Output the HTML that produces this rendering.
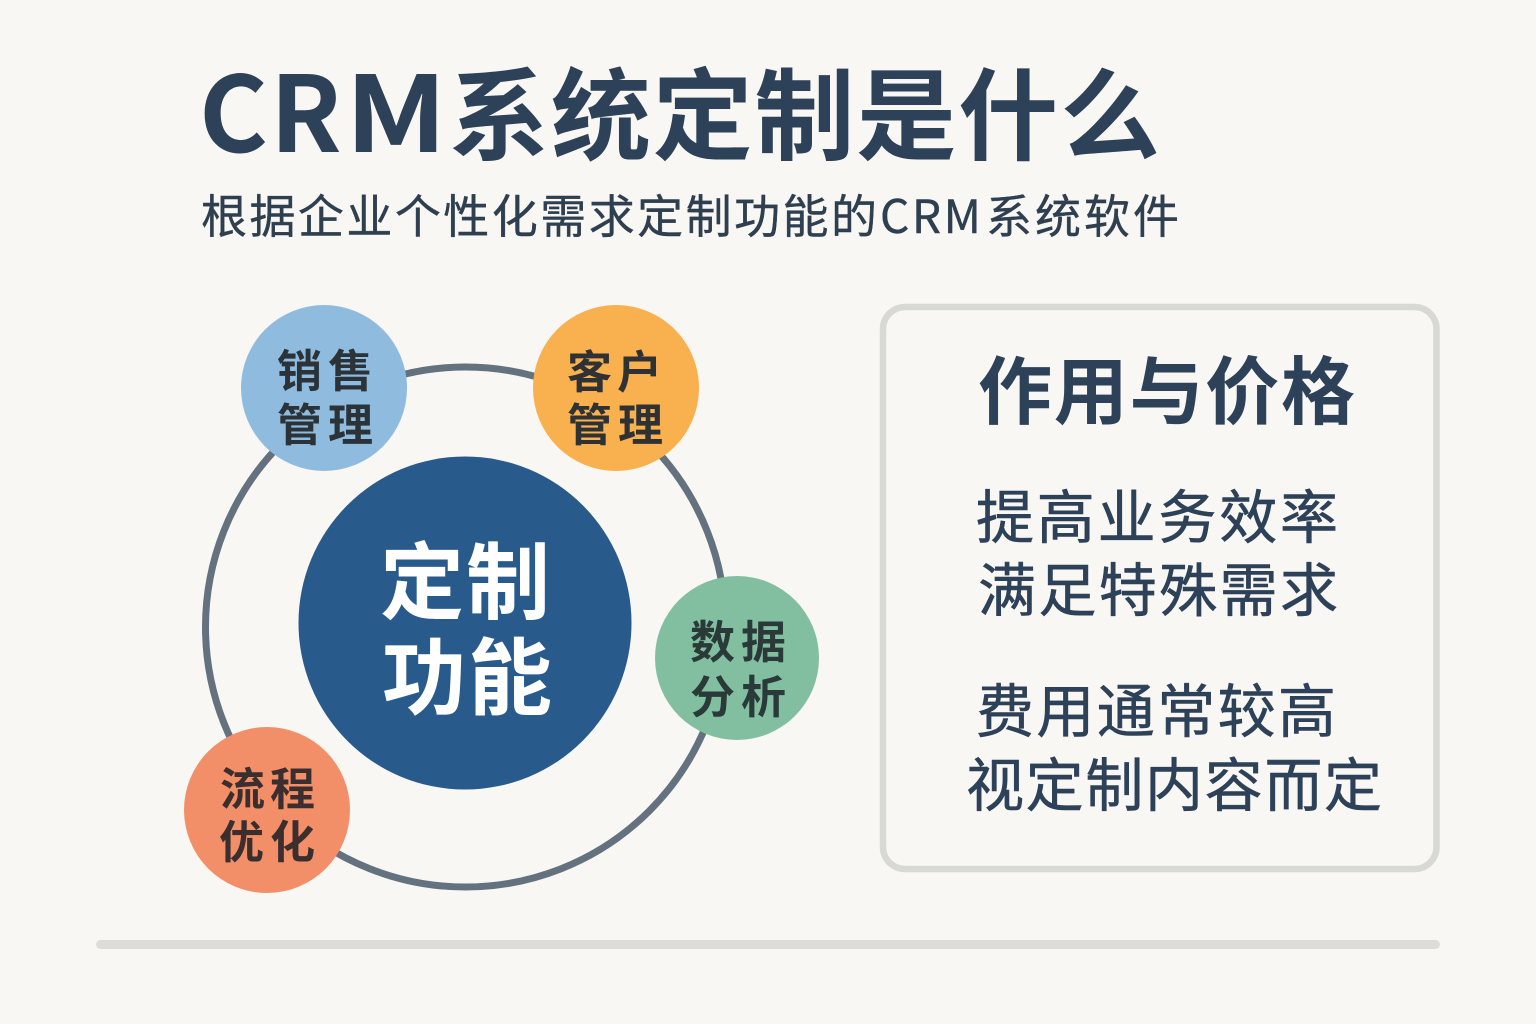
<!DOCTYPE html>
<html lang="zh">
<head>
<meta charset="utf-8">
<style>
html,body{margin:0;padding:0;background:#f8f7f3;}
svg{display:block;}
text{font-family:"Liberation Sans","Noto Sans CJK SC",sans-serif;}
.n{font-family:"Noto Sans CJK SC","Liberation Sans",sans-serif;}
</style>
</head>
<body>
<svg width="1536" height="1024" viewBox="0 0 1536 1024" xmlns="http://www.w3.org/2000/svg">
<rect width="1536" height="1024" fill="#f8f7f3"/>

<text class="n" x="199" y="152" font-size="105" font-weight="700" fill="#2d4159">C</text>
<text class="n" x="270" y="152" font-size="105" font-weight="700" fill="#2d4159">R</text>
<text class="n" x="345" y="152" font-size="105" font-weight="700" fill="#2d4159" textLength="102" lengthAdjust="spacingAndGlyphs">M</text>
<text class="n" x="449" y="152" font-size="100" font-weight="700" fill="#2d4159" textLength="711" lengthAdjust="spacing">系统定制是什么</text>

<text class="n" x="201" y="233" font-size="46" fill="#2e3f50" textLength="676" lengthAdjust="spacing" stroke="#2e3f50" stroke-width="0.4">根据企业个性化需求定制功能的</text>
<text class="n" x="880" y="233" font-size="46" fill="#2e3f50" textLength="101" lengthAdjust="spacing" stroke="#2e3f50" stroke-width="0.4">CRM</text>
<text class="n" x="986" y="233" font-size="46" fill="#2e3f50" textLength="193" lengthAdjust="spacing" stroke="#2e3f50" stroke-width="0.4">系统软件</text>

<circle cx="465.500" cy="627" r="260" fill="none" stroke="#64727f" stroke-width="7"/>
<circle cx="465" cy="623" r="166.500" fill="#285a8c"/>
<text class="n" x="380" y="612.500" font-size="84" font-weight="700" fill="#fff" textLength="170" lengthAdjust="spacing">定制</text>
<text class="n" x="382" y="708" font-size="84" font-weight="700" fill="#fff" textLength="170" lengthAdjust="spacing">功能</text>

<circle cx="324" cy="388" r="83" fill="#8fbbdf"/>
<text class="n" x="277" y="387" font-size="45" font-weight="700" fill="#2b3339" textLength="96" lengthAdjust="spacing">销售</text>
<text class="n" x="277" y="441" font-size="45" font-weight="700" fill="#2b3339" textLength="96" lengthAdjust="spacing">管理</text>

<circle cx="616" cy="388" r="83" fill="#f9b04f"/>
<text class="n" x="567" y="388" font-size="45" font-weight="700" fill="#2f3234" textLength="95" lengthAdjust="spacing">客户</text>
<text class="n" x="567" y="441" font-size="45" font-weight="700" fill="#2f3234" textLength="96" lengthAdjust="spacing">管理</text>

<circle cx="737" cy="658" r="82" fill="#82bfa1"/>
<text class="n" x="690" y="658" font-size="45" font-weight="700" fill="#2a3a38" textLength="96" lengthAdjust="spacing">数据</text>
<text class="n" x="690" y="713" font-size="45" font-weight="700" fill="#2a3a38" textLength="96" lengthAdjust="spacing">分析</text>

<circle cx="267" cy="810" r="83" fill="#f38f68"/>
<text class="n" x="220" y="805" font-size="45" font-weight="700" fill="#3a2f2e" textLength="95" lengthAdjust="spacing">流程</text>
<text class="n" x="219" y="858" font-size="45" font-weight="700" fill="#3a2f2e" textLength="96" lengthAdjust="spacing">优化</text>

<rect x="883" y="307" width="553.500" height="562" rx="22" fill="#f8f7f3" stroke="#d8d8d4" stroke-width="6.500"/>
<text class="n" x="978" y="418" font-size="74" font-weight="700" fill="#2d4159" textLength="377" lengthAdjust="spacing">作用与价格</text>
<text class="n" x="976" y="538" font-size="58" fill="#2d4159" textLength="362" lengthAdjust="spacing" stroke="#2d4159" stroke-width="0.6">提高业务效率</text>
<text class="n" x="978" y="611" font-size="58" fill="#2d4159" textLength="360" lengthAdjust="spacing" stroke="#2d4159" stroke-width="0.6">满足特殊需求</text>
<text class="n" x="976" y="732" font-size="58" fill="#2d4159" textLength="360" lengthAdjust="spacing" stroke="#2d4159" stroke-width="0.6">费用通常较高</text>
<text class="n" x="966" y="806" font-size="58" fill="#2d4159" textLength="416" lengthAdjust="spacing" stroke="#2d4159" stroke-width="0.6">视定制内容而定</text>

<rect x="96" y="940" width="1344" height="9" rx="4.500" fill="#dcdcd8"/>
</svg>
</body>
</html>
